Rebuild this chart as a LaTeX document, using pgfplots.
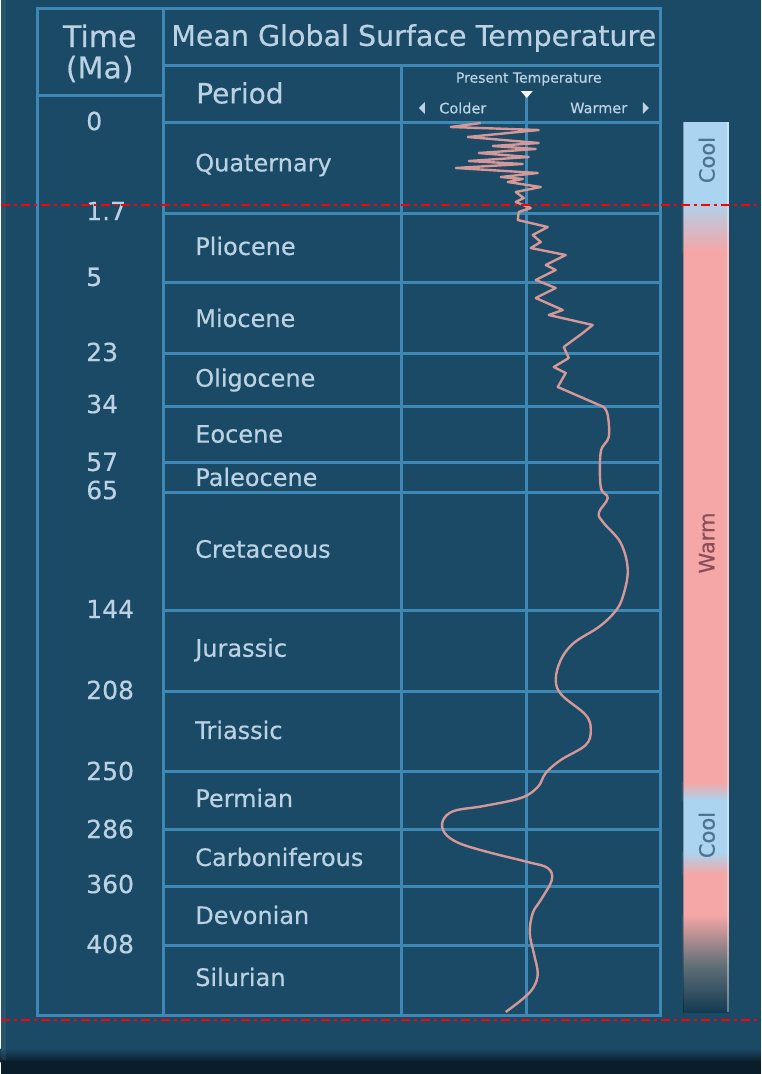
\documentclass[border=0pt]{standalone}
\usepackage{pgfplots}
\pgfplotsset{compat=1.18}
\usepackage{fontspec}
\setmainfont{DejaVu Sans}[FakeBold=0.4]
\definecolor{bg}{RGB}{26,74,102}
\definecolor{gridc}{RGB}{62,136,182}
\definecolor{txt}{RGB}{186,210,228}
\definecolor{curve}{RGB}{212,152,152}
\definecolor{barblue}{RGB}{170,212,239}
\definecolor{barpink}{RGB}{245,166,166}
\definecolor{cooltxt}{RGB}{76,115,145}
\definecolor{warmtxt}{RGB}{139,77,88}
\definecolor{darkstrip}{RGB}{10,29,43}
\begin{document}
\begin{tikzpicture}
\begin{axis}[width=760pt,height=1074pt,scale only axis,
  xmin=0,xmax=760,ymin=0,ymax=1074,y dir=reverse,hide axis,clip=false]
% background
\fill[bg] (0,0) rectangle (760,1074);
\fill[top color=bg,bottom color=darkstrip] (0,1048) rectangle (760,1062);
\fill[darkstrip] (0,1062) rectangle (760,1074);
\fill[white,opacity=0.06] (0,0) rectangle (5,1060);
% color bar
\fill[barblue] (682,122) rectangle (728,200);
\fill[top color=barblue,bottom color=barpink] (682,200) rectangle (728,252);
\fill[barpink] (682,252) rectangle (728,782);
\fill[top color=barpink,bottom color=barblue] (682,782) rectangle (728,800);
\fill[barblue] (682,800) rectangle (728,852);
\fill[top color=barblue,bottom color=barpink] (682,852) rectangle (728,874);
\fill[barpink] (682,874) rectangle (728,915);
\fill[top color=barpink,bottom color=gray!70!bg] (682,915) rectangle (728,965);
\fill[top color=gray!70!bg,bottom color=bg!80!black] (682,965) rectangle (728,1012);
\draw[white,opacity=0.35,line width=1.5pt] (727,122) -- (727,1012);
\draw[black,opacity=0.25,line width=1.5pt] (682.5,122) -- (682.5,1012);
\node[rotate=90,text=cooltxt,font=\fontsize{21}{23}\selectfont] at (706,160) {Cool};
\node[rotate=90,text=warmtxt,font=\fontsize{21}{23}\selectfont] at (706,543) {Warm};
\node[rotate=90,text=cooltxt,font=\fontsize{21}{23}\selectfont] at (706,835) {Cool};
% grid
\draw[gridc,line width=3pt] (37,8) rectangle (660,1015);
\draw[gridc,line width=3pt] (163,8) -- (163,1015);
\draw[gridc,line width=3pt] (37,95) -- (163,95);
\draw[gridc,line width=3pt] (163,65) -- (660,65);
\draw[gridc,line width=3pt] (401,65) -- (401,1015);
\draw[gridc,line width=3pt] (526,95) -- (526,1015);
\pgfplotsinvokeforeach{122,213,282,353,406,462,492,610,691,771,829,886,945}{
  \draw[gridc,line width=3pt] (163,#1) -- (660,#1);
}
% header text
\node[text=txt,font=\fontsize{30}{32}\selectfont] at (99,36) {Time};
\node[text=txt,font=\fontsize{30}{32}\selectfont] at (99,69) {(Ma)};
\node[text=txt,font=\fontsize{28.5}{30}\selectfont] at (413,38) {Mean Global Surface Temperature};
\node[text=txt,font=\fontsize{28}{30}\selectfont,anchor=west] at (192,93) {Period};
\node[text=txt,font=\fontsize{14}{15}\selectfont] at (528,79) {Present Temperature};
\node[text=txt,font=\fontsize{14.5}{15}\selectfont,anchor=west] at (435,108) {Colder};
\node[text=txt,font=\fontsize{14.5}{15}\selectfont,anchor=east] at (630,108) {Warmer};
\fill[txt] (418,108) -- (424,102) -- (424,114) -- cycle;
\fill[txt] (648,108) -- (642,102) -- (642,114) -- cycle;
\fill[white!90!txt] (520,91) -- (532,91) -- (526,98) -- cycle;
% time labels
\node[text=txt,anchor=west,font=\fontsize{25}{27}\selectfont] at (82,121) {0};
\node[text=txt,anchor=west,font=\fontsize{25}{27}\selectfont] at (82,211) {1.7};
\node[text=txt,anchor=west,font=\fontsize{25}{27}\selectfont] at (82,277) {5};
\node[text=txt,anchor=west,font=\fontsize{25}{27}\selectfont] at (82,352) {23};
\node[text=txt,anchor=west,font=\fontsize{25}{27}\selectfont] at (82,404) {34};
\node[text=txt,anchor=west,font=\fontsize{25}{27}\selectfont] at (82,462) {57};
\node[text=txt,anchor=west,font=\fontsize{25}{27}\selectfont] at (82,490) {65};
\node[text=txt,anchor=west,font=\fontsize{25}{27}\selectfont] at (82,609) {144};
\node[text=txt,anchor=west,font=\fontsize{25}{27}\selectfont] at (82,690) {208};
\node[text=txt,anchor=west,font=\fontsize{25}{27}\selectfont] at (82,771) {250};
\node[text=txt,anchor=west,font=\fontsize{25}{27}\selectfont] at (82,829) {286};
\node[text=txt,anchor=west,font=\fontsize{25}{27}\selectfont] at (82,884) {360};
\node[text=txt,anchor=west,font=\fontsize{25}{27}\selectfont] at (82,944) {408};
% period labels
\node[text=txt,anchor=west,font=\fontsize{24}{26}\selectfont] at (191,165) {Quaternary};
\node[text=txt,anchor=west,font=\fontsize{24}{26}\selectfont] at (191,246) {Pliocene};
\node[text=txt,anchor=west,font=\fontsize{24}{26}\selectfont] at (191,318) {Miocene};
\node[text=txt,anchor=west,font=\fontsize{24}{26}\selectfont] at (191,380) {Oligocene};
\node[text=txt,anchor=west,font=\fontsize{24}{26}\selectfont] at (191,434) {Eocene};
\node[text=txt,anchor=west,font=\fontsize{24}{26}\selectfont] at (191,477) {Paleocene};
\node[text=txt,anchor=west,font=\fontsize{24}{26}\selectfont] at (191,549) {Cretaceous};
\node[text=txt,anchor=west,font=\fontsize{24}{26}\selectfont] at (191,650) {Jurassic};
\node[text=txt,anchor=west,font=\fontsize{24}{26}\selectfont] at (191,730) {Triassic};
\node[text=txt,anchor=west,font=\fontsize{24}{26}\selectfont] at (191,798) {Permian};
\node[text=txt,anchor=west,font=\fontsize{24}{26}\selectfont] at (191,857) {Carboniferous};
\node[text=txt,anchor=west,font=\fontsize{24}{26}\selectfont] at (191,915) {Devonian};
\node[text=txt,anchor=west,font=\fontsize{24}{26}\selectfont] at (191,977) {Silurian};
% temperature curve
\addplot[curve,line width=2.4pt,line join=round] coordinates {
(480,123) (450,127) (538,130) (467,137) (538,143) (492,146) (535,149) (478,153)
(528,157) (468,161) (522,164) (455,168) (537,173) (500,177) (522,179) (507,182)
(540,187) (515,192) (523,198) (515,202) (530,208) (518,212) (517,220) (547,227)
(532,235) (540,242) (530,248) (565,255) (545,265) (555,270) (535,280) (555,288)
(535,298) (562,310) (548,315) (592,325) (582,333) (563,347) (568,358) (553,367)
(565,373) (557,387) (580,397) (603,407)};
\addplot[curve,line width=2.4pt,smooth,tension=0.6] coordinates {
(603,407) (607,415) (608,437) (600,452) (600,487) (607,498) (598,513) (603,523)
(620,543) (627,570) (622,597) (614,612) (598,627) (573,643) (560,660) (555,680)
(561,695) (585,715) (590,730) (585,745) (560,760) (545,773) (537,787) (520,798)
(483,806) (453,811) (442,821) (444,833) (458,843) (487,852) (527,862) (547,868)
(551,880) (540,900) (532,913) (529,933) (533,953) (537,973) (533,987) (523,998)
(505,1012)};
% red dash-dot markers
\draw[red,line width=1.5pt,dash pattern=on 9pt off 4pt on 3pt off 4pt] (0,205) -- (760,205);
\draw[red,line width=1.5pt,dash pattern=on 9pt off 4pt on 3pt off 4pt] (0,1020) -- (760,1020);
\end{axis}
\end{tikzpicture}
\end{document}
